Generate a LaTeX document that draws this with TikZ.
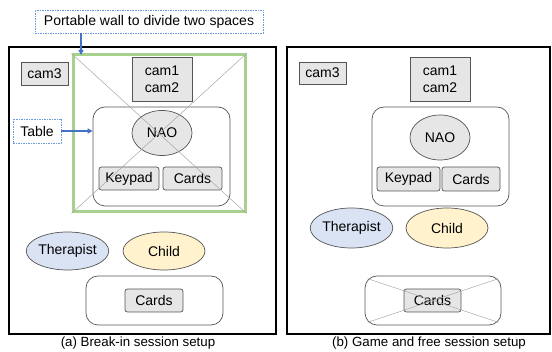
\documentclass[tikz,border=0pt]{standalone}
\usepackage{fontspec}
\setmainfont{Liberation Sans}
\usepackage{xcolor}
\usepackage{tikz}
\usetikzlibrary{positioning, shapes, arrows.meta, calc}

\definecolor{boxgrey}{HTML}{E6E6E6}
\definecolor{edgegrey}{HTML}{555555}
\definecolor{wallgreen}{HTML}{A9D18E}
\definecolor{notblue}{HTML}{4472C4}
\definecolor{dashblue}{HTML}{6A9BE0}
\definecolor{therablue}{HTML}{DAE3F3}
\definecolor{childyellow}{HTML}{FFF2CC}

\begin{document}
\begin{tikzpicture}[x=1pt, y=-1pt,
    every node/.style={font=\fontsize{14}{17}\selectfont, inner sep=0pt, align=center},
    panel/.style={draw=black, line width=2pt, rectangle},
    item/.style={draw=edgegrey, fill=boxgrey, rectangle, line width=0.7pt},
    pad/.style={item, rounded corners=2.5pt},
    desk/.style={draw=edgegrey, rectangle, rounded corners=12pt, line width=0.7pt},
    person/.style={draw=edgegrey, ellipse, line width=0.7pt},
    note/.style={draw=dashblue, dash pattern=on 1.5pt off 1pt, rectangle, line width=0.8pt},
    pointer/.style={-{Triangle[length=5pt, width=5pt]}, notblue, line width=1.5pt},
    crossline/.style={draw=gray!70, line width=0.5pt}]
  \useasboundingbox (0,0) rectangle (552,352);

  % Left panel: break-in session
  \node[panel, minimum width=267pt, minimum height=287pt] (panelA) at (142.5,190.5) {};
  \node[item, minimum width=47pt, minimum height=23pt] (cam3A) at (44.5,73.5) {cam3};
  \node[item, minimum width=60pt, minimum height=44pt] (camsA) at (162,79) {cam1\\cam2};
  \node[desk, minimum width=137pt, minimum height=99pt] (tableA) at (161.5,156.5) {};
  \node[person, fill=boxgrey, minimum width=60pt, minimum height=45pt] (naoA) at (162,133) {NAO};
  \node[pad, minimum width=60pt, minimum height=23pt] (keypadA) at (129,178.5) {Keypad};
  \node[pad, minimum width=59pt, minimum height=23pt] (cardsA) at (192.5,178.5) {Cards};
  \node[person, fill=therablue, minimum width=81pt, minimum height=38pt] (therapistA) at (67.5,251) {Therapist};
  \node[person, fill=childyellow, minimum width=82pt, minimum height=38pt] (childA) at (164,251) {Child};
  \node[desk, minimum width=137pt, minimum height=49pt] (deskA) at (154.5,300.5) {};
  \node[pad, minimum width=58pt, minimum height=23pt] (deskcardsA) at (154,300.5) {Cards};

  % Portable wall
  \node[draw=wallgreen, line width=3pt, rectangle, minimum width=172pt, minimum height=157pt] (wall) at (159,133.5) {};
  \draw[crossline] (wall.north west) -- (wall.south east);
  \draw[crossline] (wall.north east) -- (wall.south west);
  \coordinate (wallTip) at (81,55);

  % Notes
  \node[note, minimum width=228pt, minimum height=23pt] (wallNote) at (149,21.5) {Portable wall to divide two spaces};
  \node[note, minimum width=48pt, minimum height=24pt] (tableNote) at (37,131) {Table};
  \draw[pointer] (wallNote.south -| wallTip) -- (wallTip);
  \draw[pointer] (tableNote.east) -- (tableNote.east -| tableA.west);

  % Right panel: game and free session
  \node[panel, minimum width=263pt, minimum height=287pt] (panelB) at (418.5,190.5) {};
  \node[item, minimum width=47pt, minimum height=22pt] (cam3B) at (322.5,73) {cam3};
  \node[item, minimum width=60pt, minimum height=44pt] (camsB) at (440,79) {cam1\\cam2};
  \node[desk, minimum width=137pt, minimum height=99pt] (tableB) at (440.5,156.5) {};
  \node[person, fill=boxgrey, minimum width=60pt, minimum height=45pt] (naoB) at (440,137.5) {NAO};
  \node[pad, minimum width=63pt, minimum height=24pt] (keypadB) at (408.5,179) {Keypad};
  \node[pad, minimum width=58pt, minimum height=24pt] (cardsB) at (471,179) {Cards};
  \node[person, fill=therablue, minimum width=81pt, minimum height=40pt] (therapistB) at (351.5,228) {Therapist};
  \node[person, fill=childyellow, minimum width=82pt, minimum height=40pt] (childB) at (447,228) {Child};
  \node[desk, minimum width=136pt, minimum height=49pt] (deskB) at (433,300.5) {};
  \node[pad, minimum width=57pt, minimum height=23pt] (deskcardsB) at (432.5,300.5) {Cards};
  \draw[crossline] ($(deskB.north west)+(3,3)$) -- ($(deskB.south east)+(-3,-3)$);
  \draw[crossline] ($(deskB.north east)+(-3,3)$) -- ($(deskB.south west)+(3,-3)$);

  % Captions
  \node[font=\fontsize{13.3}{15}\selectfont] (captionA) at (138,343) {(a) Break-in session setup};
  \node[font=\fontsize{13.3}{15}\selectfont] (captionB) at (429,343) {(b) Game and free session setup};
\end{tikzpicture}
\end{document}
